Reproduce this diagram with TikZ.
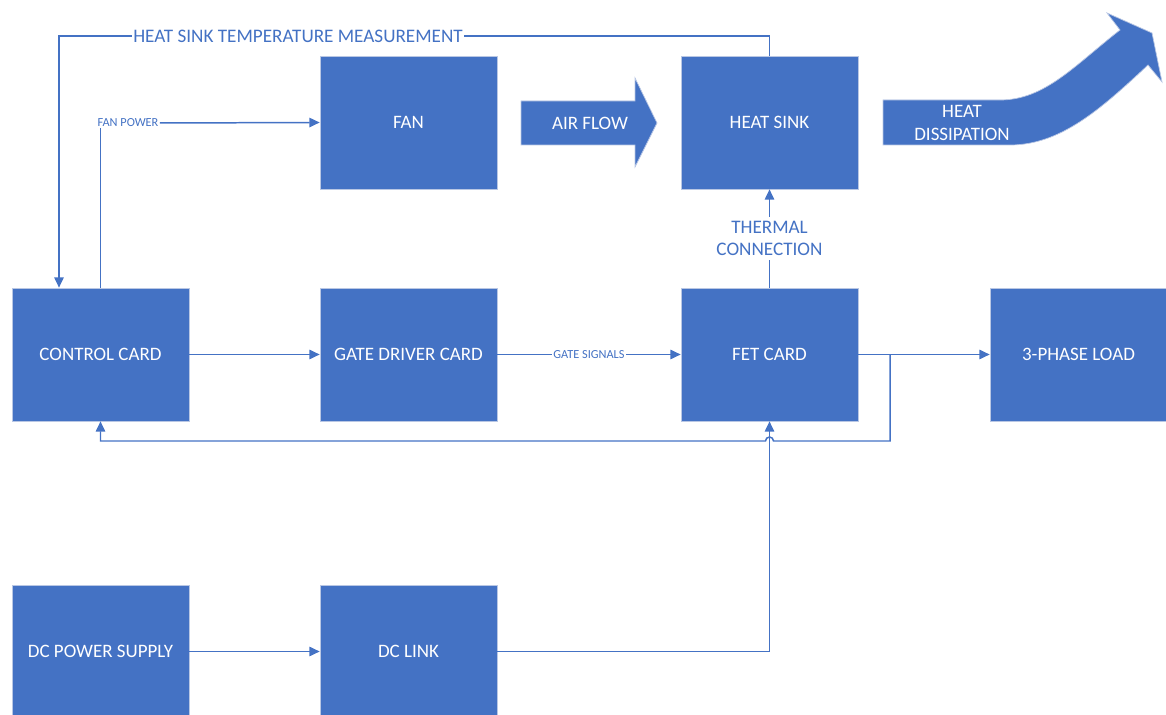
\documentclass[tikz,border=0pt]{standalone}
\usepackage{fontspec}
\setmainfont{Carlito}
\usetikzlibrary{arrows.meta}
\definecolor{officeblue}{HTML}{4472C4}
\definecolor{boxedge}{HTML}{B9C7E4}

\begin{document}
\begin{tikzpicture}[x=0.02cm,y=-0.02cm]
   \tikzset{BoxStyle/.style={rectangle, fill=officeblue, draw=boxedge, line width=0.4pt,
      minimum width=3.54cm, minimum height=2.66cm, inner sep=0pt, text=white,
      font=\fontsize{10.8}{13}\selectfont}}
   \tikzset{LineStyle/.style={draw=officeblue, line width=0.85pt}}
   \tikzset{EdgeStyle/.style={LineStyle, -{Triangle[length=5.9pt,width=5.4pt]}}}
   \tikzset{LabelStyle/.style={text=officeblue, fill=white, inner sep=1pt,
      font=\fontsize{10.9}{13}\selectfont}}
   \tikzset{SmallLabelStyle/.style={LabelStyle, inner sep=0.6pt, font=\fontsize{7}{8}\selectfont}}
   \tikzset{FlowStyle/.style={fill=officeblue, draw=boxedge, line width=0.4pt}}
   \useasboundingbox (0,0) rectangle (1166,715);
   \node[BoxStyle] (fan) at (408.5,122.5) {FAN};
   \node[BoxStyle] (heatsink) at (769.5,122.5) {HEAT SINK};
   \node[BoxStyle] (control) at (100.5,354.5) {CONTROL CARD};
   \node[BoxStyle] (gatedriver) at (408.5,354.5) {GATE DRIVER CARD};
   \node[BoxStyle] (fet) at (769.5,354.5) {FET CARD};
   \node[BoxStyle] (load) at (1078.5,354.5) {3-PHASE LOAD};
   \node[BoxStyle] (supply) at (100.5,651.5) {DC POWER SUPPLY};
   \node[BoxStyle] (dclink) at (408.5,651.5) {DC LINK};
   \filldraw[FlowStyle] (521,101) -- (635,101) -- (635,78) -- (657,123) -- (635,167)
      -- (635,145) -- (521,145) -- cycle;
   \node[text=white, font=\fontsize{10.8}{13}\selectfont] (airflow) at (590,123) {AIR FLOW};
   \filldraw[FlowStyle] (883,100) -- (1000,100) .. controls (1045,100) and (1075,65) .. (1120,30)
      -- (1107,13) -- (1152,33) -- (1162,82) -- (1148,65)
      .. controls (1100,110) and (1060,145) .. (1010,145) -- (883,145) -- cycle;
   \node[text=white, align=center, font=\fontsize{10.8}{13}\selectfont] (dissipation) at (962,123) {HEAT\\DISSIPATION};
   \coordinate (templeft) at (59,36);
   \coordinate (fbright) at (890,441);
   \draw[EdgeStyle] (heatsink.north) |- (templeft) -- (control.north -| templeft);
   \node[LabelStyle] (templabel) at (298,36) {HEAT SINK TEMPERATURE MEASUREMENT};
   \node[SmallLabelStyle] (fanpower) at (128,123) {FAN POWER};
   \draw[LineStyle] (control.north) -- (control.north |- fanpower.south);
   \draw[EdgeStyle] (fanpower.east) -- (fan.west);
   \draw[EdgeStyle] (control) -- (gatedriver);
   \draw[EdgeStyle] (gatedriver) -- node[SmallLabelStyle] (gatesignals) {GATE SIGNALS} (fet);
   \draw[EdgeStyle] (fet) -- (load);
   \node[LabelStyle, align=center, inner sep=2pt, font=\fontsize{10.9}{13}\selectfont] (thermal) at (769.5,238.5) {THERMAL\\CONNECTION};
   \draw[LineStyle] (fet.north) -- (thermal.south);
   \draw[EdgeStyle] (thermal.north) -- (heatsink.south);
   \draw[EdgeStyle] (supply) -- (dclink);
   \draw[EdgeStyle] (dclink.east) -| (fet.south);
   \draw[EdgeStyle] (fet.east -| fbright) -- (fbright) -- ([xshift=0.08cm]fet.south |- fbright)
      arc[start angle=0, end angle=180, radius=0.08cm] -- (control.south |- fbright) -- (control.south);
\end{tikzpicture}
\end{document}
